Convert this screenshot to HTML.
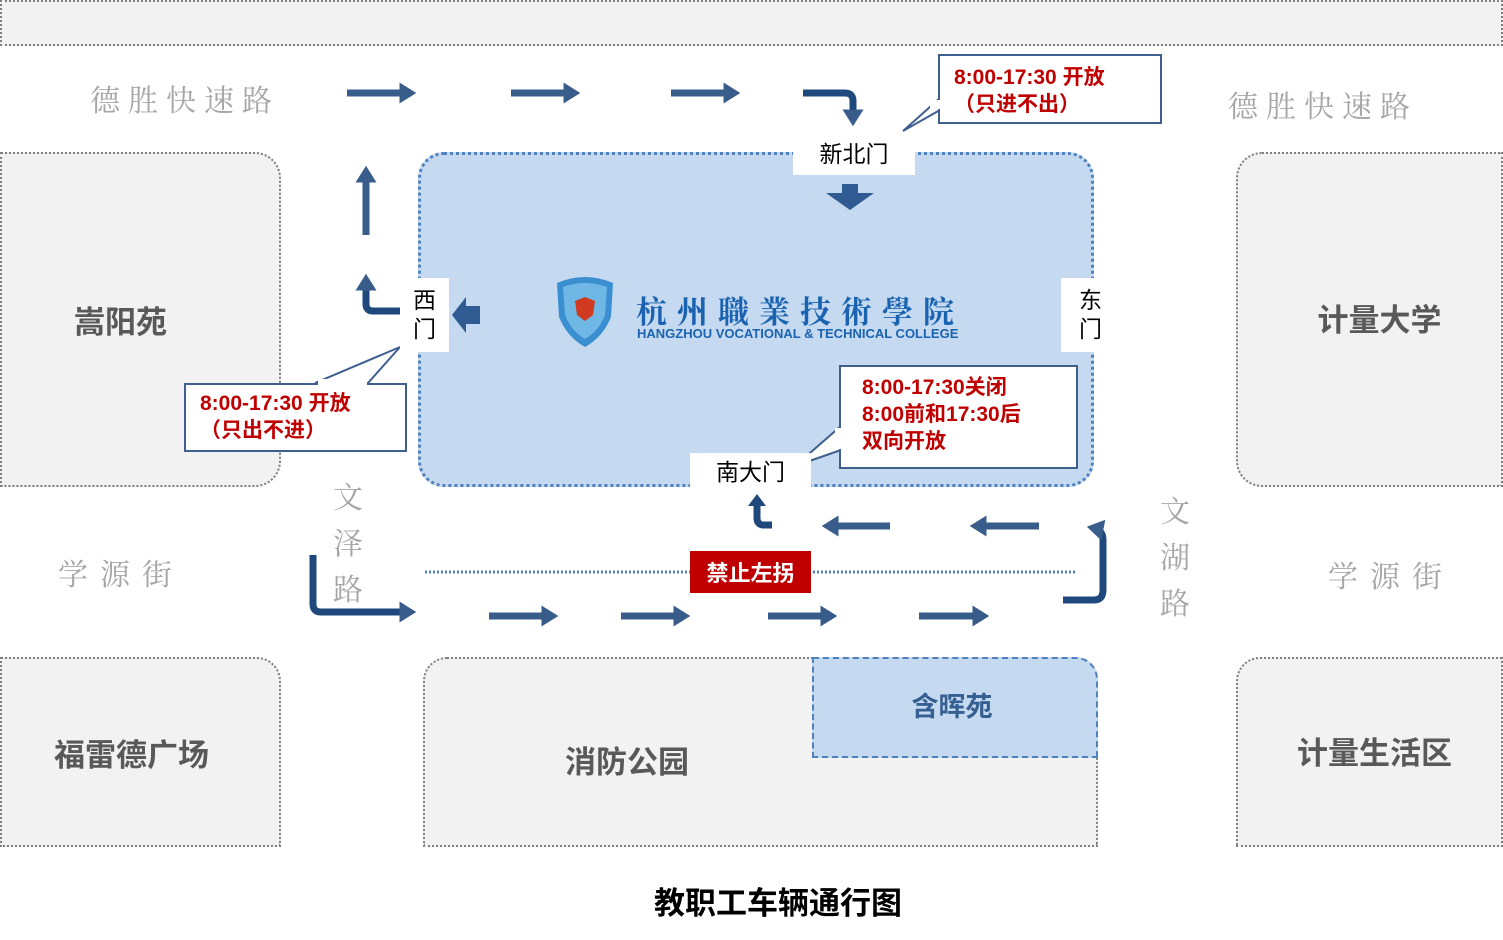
<!DOCTYPE html>
<html><head><meta charset="utf-8"><style>
body{margin:0;width:1503px;height:940px;background:#fff;position:relative;overflow:hidden;font-family:"Liberation Sans","Noto Sans CJK SC",sans-serif}
.a{position:absolute;box-sizing:border-box}
.g{background:#f2f2f2;border:2px dotted #7f7f7f}
.t{display:flex;align-items:center;justify-content:center;font-weight:bold;color:#595959;font-size:31px}
.road{position:absolute;color:#a6a6a6;font-family:"Noto Serif CJK SC",serif;font-size:30px;letter-spacing:8px}
.w{background:#fff;color:#000;font-size:23px;display:flex;align-items:center;justify-content:center;text-align:center;line-height:29px}
.call{color:#c00000;font-weight:bold;font-size:21px;line-height:27px;background:#fff;border:2px solid #3f5f8f;padding-left:14px}
</style></head><body>
<div class="a g" style="left:0;top:0;width:1503px;height:46px"></div>
<div class="a g t" style="left:0;top:152px;width:281px;height:335px;border-radius:0 26px 26px 0;padding-right:40px">嵩阳苑</div>
<div class="a g t" style="left:1236px;top:152px;width:267px;height:335px;border-radius:26px 0 0 26px;padding-left:20px;padding-bottom:4px">计量大学</div>
<div class="a g t" style="left:0;top:657px;width:281px;height:190px;border-radius:0 24px 0 0;padding-right:18px">福雷德广场</div>
<div class="a g t" style="left:1236px;top:657px;width:267px;height:190px;border-radius:24px 0 0 0;padding-left:10px;padding-bottom:4px">计量生活区</div>
<div class="a g t" style="left:423px;top:657px;width:675px;height:190px;border-radius:24px 24px 0 0;justify-content:flex-start;padding-left:140px;padding-top:14px">消防公园</div>
<div class="a t" style="left:812px;top:657px;width:286px;height:101px;background:#c5d9f1;border:2px dashed #4f81bd;border-radius:0 22px 0 0;color:#376092;font-size:27px;padding-bottom:6px;padding-right:6px">含晖苑</div>
<div class="a" style="left:418px;top:152px;width:676px;height:335px;background:#c5d9f1;border:3px dotted #4f81bd;border-radius:26px"></div>

<div class="road" style="left:90px;top:76px">德胜快速路</div>
<div class="road" style="left:1228px;top:82px">德胜快速路</div>
<div class="road" style="left:58px;top:550px;letter-spacing:12px">学源街</div>
<div class="road" style="left:1328px;top:552px;letter-spacing:12px">学源街</div>
<div class="road" style="left:333px;top:472px;width:34px;line-height:46px">文泽路</div>
<div class="road" style="left:1160px;top:486px;width:34px;line-height:46px">文湖路</div>

<svg class="a" style="left:553px;top:275px" width="64" height="74" viewBox="0 0 64 74">
<path d="M4 8 Q32 -4 60 8 L58 42 Q50 62 32 72 Q14 62 6 42 Z" fill="#3a8fd0"/>
<path d="M10 12 Q32 4 54 12 L52 40 Q46 56 32 64 Q18 56 12 40Z" fill="#6fb8e6"/>
<path d="M22 26 L32 22 L42 26 L40 40 L32 46 L24 40Z" fill="#d23a20"/>
</svg>
<div class="a" style="left:636px;top:287px;color:#1a63b0;font-family:'Noto Serif CJK SC',serif;font-weight:bold;font-size:31px;letter-spacing:10px;white-space:nowrap">杭州職業技術學院</div>
<div class="a" style="left:637px;top:326px;color:#1a63b0;font-weight:bold;font-size:13px;white-space:nowrap">HANGZHOU VOCATIONAL &amp; TECHNICAL COLLEGE</div>

<svg class="a" style="left:0;top:0" width="1503" height="940">
<defs><marker id="h" markerWidth="4" markerHeight="4" refX="1.5" refY="2" orient="auto" markerUnits="strokeWidth"><path d="M0,0.5 L2.4,2 L0,3.5Z" fill="#385d8a"/></marker></defs>
<g stroke="#385d8a" stroke-width="7" fill="none" marker-end="url(#h)">
<line x1="347" y1="93" x2="410" y2="93"/><line x1="511" y1="93" x2="574" y2="93"/><line x1="671" y1="93" x2="734" y2="93"/>
<path d="M803 93 H845 Q853 93 853 101 V120" stroke="#1f497d"/>
<line x1="366" y1="235" x2="366" y2="172"/>
<path d="M400 311 H373 Q366 311 366 304 V280" stroke="#1f497d"/>
<path d="M313 555 V604 Q313 612 321 612 H410" stroke="#1f497d"/>
<line x1="489" y1="616" x2="552" y2="616"/><line x1="621" y1="616" x2="684" y2="616"/><line x1="768" y1="616" x2="831" y2="616"/><line x1="919" y1="616" x2="983" y2="616"/>
<line x1="890" y1="526" x2="828" y2="526"/><line x1="1039" y1="526" x2="976" y2="526"/>
<path d="M1063 600 H1094 Q1103 600 1103 590 V540 Q1103 530 1093 528" stroke="#1f497d"/>
<path d="M772 525 H764 Q757 525 757 518 V505" stroke="#1f497d" marker-end="none"/>
</g>
<path d="M757 494 L766 506 H748Z" fill="#1f497d"/>
<line x1="425" y1="572" x2="1075" y2="572" stroke="#4f81bd" stroke-width="3" stroke-dasharray="2 2"/>
<path d="M452 315 L466 297 V306 H480 V324 H466 V333Z" fill="#2f5a92"/>
<path d="M826 193 H842 V184 H858 V193 H874 L850 210Z" fill="#2f5a92"/>
<path d="M903 131 L940 98 L940 110Z" fill="#fff" stroke="#3f5f8f" stroke-width="2"/>
<path d="M368 383 L400 347 L315 383Z" fill="#fff" stroke="#3f5f8f" stroke-width="2"/>
<path d="M795 466 L841 426 L841 450Z" fill="#fff" stroke="#3f5f8f" stroke-width="2"/>
</svg>

<div class="a call" style="left:938px;top:54px;width:224px;height:70px;padding-top:8px">8:00-17:30 开放<br>（只进不出）</div>
<div class="a call" style="left:184px;top:383px;width:223px;height:69px;padding-top:5px">8:00-17:30 开放<br>（只出不进）</div>
<div class="a call" style="left:839px;top:365px;width:239px;height:104px;padding-left:21px;padding-top:7px">8:00-17:30关闭<br>8:00前和17:30后<br>双向开放</div>
<div class="a" style="left:930px;top:100px;width:12px;height:9px;background:#fff"></div>
<div class="a" style="left:318px;top:379px;width:49px;height:8px;background:#fff"></div>
<div class="a" style="left:835px;top:428px;width:10px;height:21px;background:#fff"></div>

<div class="a w" style="left:793px;top:133px;width:122px;height:42px">新北门</div>
<div class="a w" style="left:400px;top:278px;width:49px;height:74px">西<br>门</div>
<div class="a w" style="left:1061px;top:278px;width:59px;height:74px">东<br>门</div>
<div class="a w" style="left:690px;top:453px;width:121px;height:38px">南大门</div>
<div class="a" style="left:690px;top:551px;width:121px;height:42px;background:#c00000;color:#fff;font-weight:bold;font-size:22px;display:flex;align-items:center;justify-content:center">禁止左拐</div>

<div class="a" style="left:0;top:878px;width:1556px;text-align:center;font-weight:bold;font-size:31px;color:#000">教职工车辆通行图</div>
</body></html>
